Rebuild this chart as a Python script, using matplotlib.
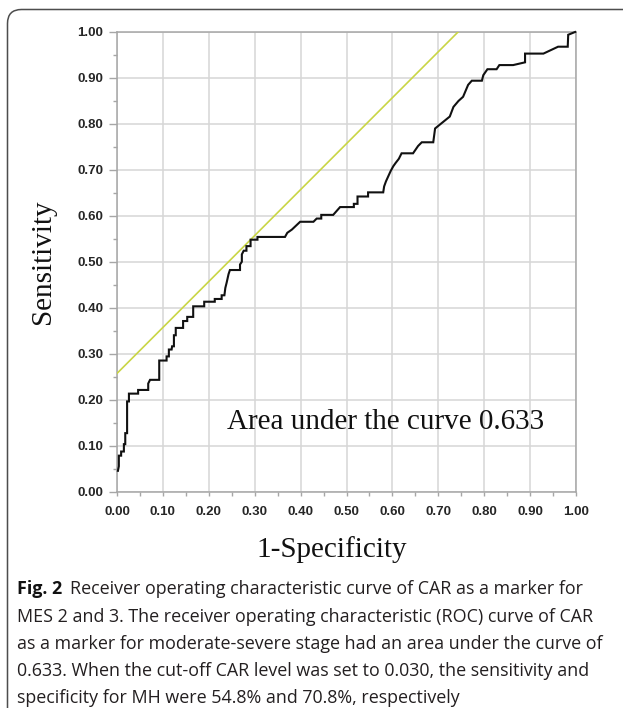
import matplotlib
matplotlib.use("Agg")
import matplotlib.pyplot as plt
from matplotlib.patches import FancyBboxPatch
from matplotlib.ticker import MultipleLocator, FormatStrFormatter

# ROC curve of CAR
fpr = [0.002, 0.004, 0.004, 0.009, 0.009, 0.015, 0.015, 0.018, 0.018, 0.022,
       0.022, 0.026, 0.026, 0.046, 0.046, 0.068, 0.068, 0.072, 0.092, 0.092,
       0.108, 0.108, 0.113, 0.113, 0.119, 0.120, 0.124, 0.124, 0.128, 0.128,
       0.144, 0.144, 0.153, 0.153, 0.166, 0.166, 0.190, 0.190, 0.213, 0.213,
       0.228, 0.228, 0.234, 0.236, 0.239, 0.243, 0.246, 0.268, 0.268, 0.272,
       0.272, 0.276, 0.282, 0.282, 0.291, 0.291, 0.306, 0.306, 0.366, 0.371,
       0.381, 0.399, 0.428, 0.435, 0.445, 0.445, 0.471, 0.486, 0.516, 0.516,
       0.524, 0.524, 0.547, 0.547, 0.580, 0.582, 0.586, 0.591, 0.596, 0.602,
       0.607, 0.614, 0.620, 0.645, 0.656, 0.664, 0.689, 0.693, 0.704, 0.725,
       0.733, 0.744, 0.754, 0.765, 0.773, 0.795, 0.798, 0.807, 0.827, 0.833,
       0.863, 0.889, 0.889, 0.929, 0.961, 0.982, 0.983, 0.998]
tpr = [0.045, 0.055, 0.078, 0.078, 0.087, 0.087, 0.103, 0.103, 0.127, 0.127,
       0.196, 0.196, 0.213, 0.213, 0.221, 0.221, 0.235, 0.243, 0.243, 0.285,
       0.285, 0.294, 0.294, 0.309, 0.309, 0.316, 0.316, 0.340, 0.340, 0.356,
       0.356, 0.371, 0.371, 0.380, 0.380, 0.403, 0.403, 0.413, 0.413, 0.419,
       0.419, 0.427, 0.427, 0.443, 0.455, 0.473, 0.482, 0.482, 0.494, 0.500,
       0.516, 0.524, 0.524, 0.534, 0.534, 0.548, 0.548, 0.554, 0.554, 0.563,
       0.570, 0.587, 0.587, 0.594, 0.594, 0.602, 0.602, 0.619, 0.619, 0.626,
       0.626, 0.642, 0.642, 0.651, 0.651, 0.664, 0.675, 0.686, 0.697, 0.708,
       0.715, 0.724, 0.736, 0.736, 0.752, 0.760, 0.760, 0.790, 0.799, 0.816,
       0.837, 0.850, 0.859, 0.885, 0.894, 0.894, 0.906, 0.919, 0.919, 0.928,
       0.928, 0.934, 0.953, 0.953, 0.968, 0.968, 0.994, 1.000]

# tangent reference line through the cut-off point
ref_x = [0.0, 0.743]
ref_y = [0.257, 1.0]

auc_text = "Area under the curve 0.633"
xlabel = "1-Specificity"
ylabel = "Sensitivity"

caption_bold = "Fig. 2"
caption_lines = [
    "Receiver operating characteristic curve of CAR as a marker for",
    "MES 2 and 3. The receiver operating characteristic (ROC) curve of CAR",
    "as a marker for moderate-severe stage had an area under the curve of",
    "0.633. When the cut-off CAR level was set to 0.030, the sensitivity and",
    "specificity for MH were 54.8% and 70.8%, respectively",
]

W, H = 623, 708
fig = plt.figure(figsize=(W / 100, H / 100), dpi=100)
fig.patch.set_facecolor("white")

# rounded frame, open to the right and bottom
frame = FancyBboxPatch((7.5, -40), 700, H - 9.5 + 40,
                       boxstyle="round,pad=0,rounding_size=14",
                       transform=None, fill=False, edgecolor="#4d4d4d",
                       linewidth=1.1)
fig.patches.append(frame)

ax = fig.add_axes([117 / W, (H - 491.5) / H, 459 / W, 459.5 / H])
ax.set_xlim(0, 1)
ax.set_ylim(0, 1)

ax.plot(ref_x, ref_y, color="#c9d545", lw=1.2, zorder=3)
ax.plot(fpr, tpr, color="#111111", lw=1.5, zorder=4, clip_on=False,
        solid_joinstyle="miter")

ax.xaxis.set_major_locator(MultipleLocator(0.1))
ax.yaxis.set_major_locator(MultipleLocator(0.1))
ax.xaxis.set_minor_locator(MultipleLocator(0.05))
ax.yaxis.set_minor_locator(MultipleLocator(0.05))
ax.xaxis.set_major_formatter(FormatStrFormatter("%.2f"))
ax.yaxis.set_major_formatter(FormatStrFormatter("%.2f"))

ax.grid(True, which="major", color="#d6d6d6", lw=1.1, zorder=0)
ax.set_axisbelow(True)
for sp in ax.spines.values():
    sp.set_color("#a6a6a6")
    sp.set_linewidth(1.1)

ax.tick_params(axis="x", which="major", length=3, width=1, color="#a6a6a6",
               pad=7.5, labelcolor="#262626")
ax.tick_params(axis="x", which="minor", length=3, width=1, color="#a6a6a6")
ax.tick_params(axis="y", which="major", length=6, width=1, color="#a6a6a6",
               pad=4, labelcolor="#262626")
ax.tick_params(axis="y", which="minor", length=3, width=1, color="#a6a6a6")
for lab in ax.get_xticklabels() + ax.get_yticklabels():
    lab.set_fontfamily(["Liberation Sans", "DejaVu Sans"])
    lab.set_fontsize(9.5)
    lab.set_fontweight("bold")

serif = ["Liberation Serif", "DejaVu Serif"]
ax.set_xlabel(xlabel, family=serif, size=21, color="#111111", va="center")
ax.xaxis.set_label_coords(0.4675, -0.127)
ax.set_ylabel(ylabel, family=serif, size=21, color="#111111", va="center")
ax.yaxis.set_label_coords(-0.161, 0.5)

ax.text(0.239, 0.135, auc_text, family=serif, size=21, color="#111111",
        transform=ax.transAxes, va="baseline")

# caption
cap_family = ["Open Sans", "DejaVu Sans"]
cap_size = 12.9
x0 = 17
base0 = 594.5
step = 27.1
t = fig.text(x0 / W, 1 - base0 / H, caption_bold, family=cap_family,
             size=cap_size, weight="bold", color="#111111", va="baseline")
renderer = fig.canvas.get_renderer()
bb = t.get_window_extent(renderer)
for i, line in enumerate(caption_lines):
    x = (bb.x1 + 8) / W if i == 0 else x0 / W
    fig.text(x, 1 - (base0 + i * step) / H, line, family=cap_family,
             size=cap_size, color="#231f20", va="baseline")

fig.savefig("out.png", dpi=100)
